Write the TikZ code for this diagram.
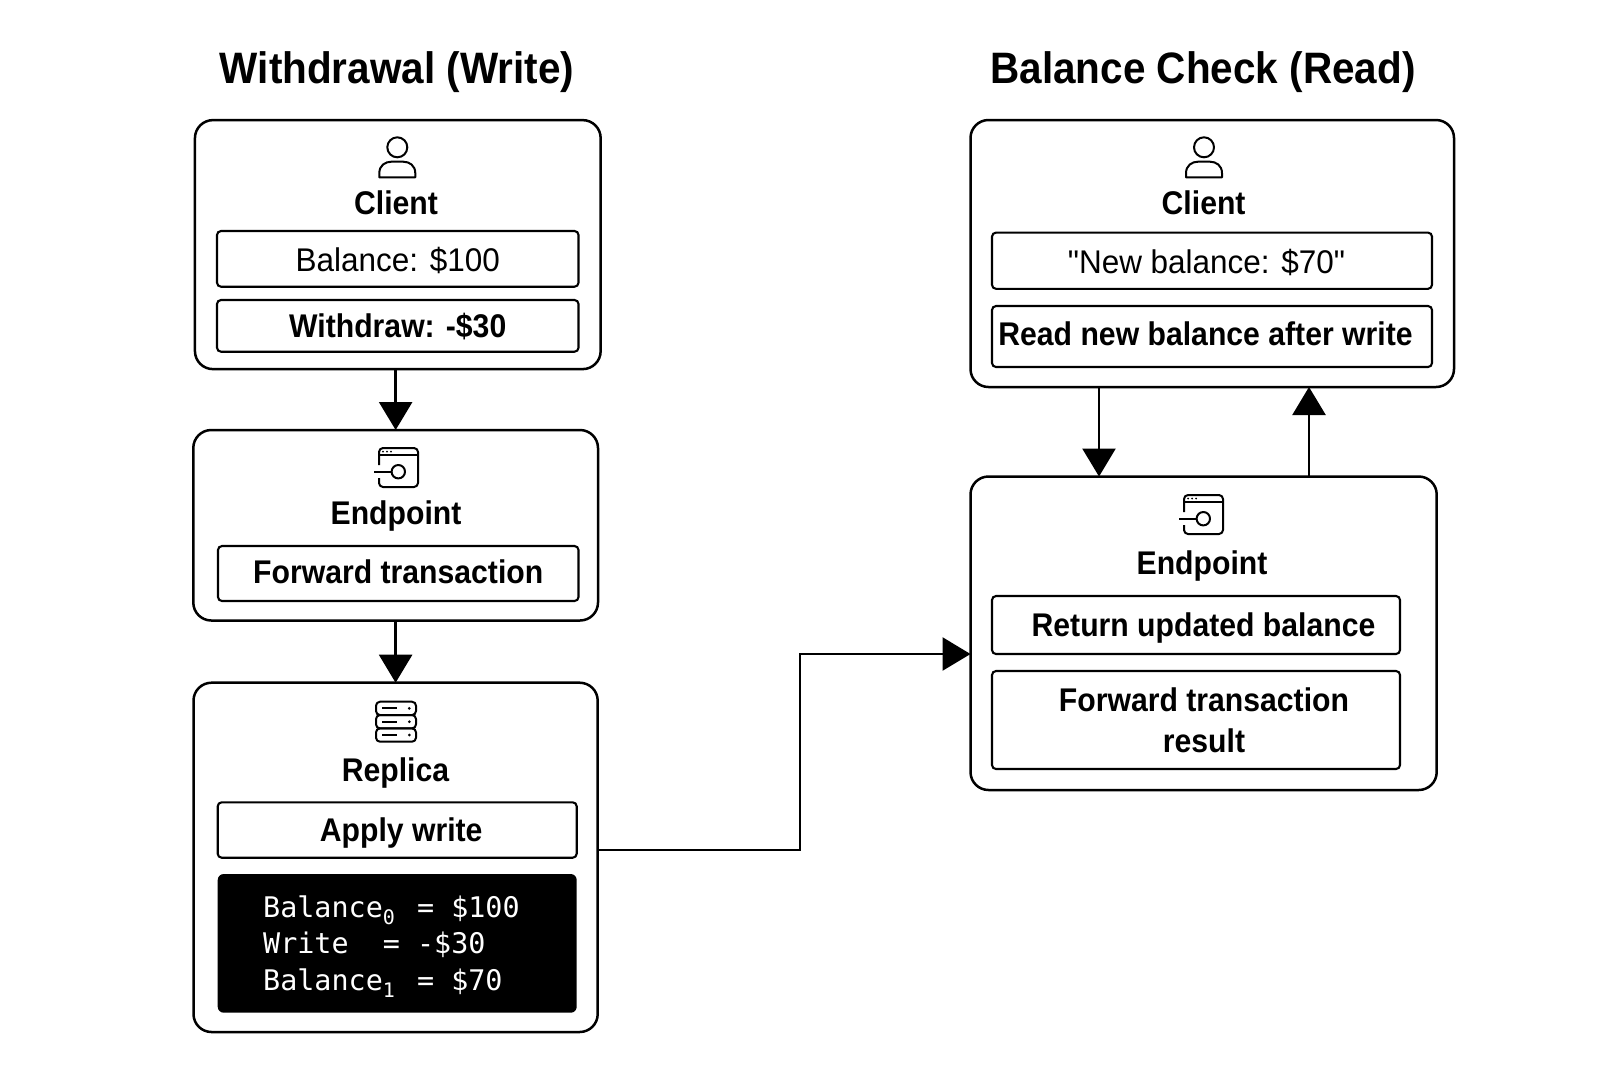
\documentclass[tikz,border=0pt]{standalone}
\usepackage{fontspec}
\usetikzlibrary{arrows.meta}
\setmainfont{Liberation Sans}[Ligatures=TeXOff,FakeStretch=0.96,BoldFeatures={FakeStretch=0.92}]
\newfontfamily\codefont{DejaVu Sans Mono}
\newcommand{\codesub}[1]{\makebox[8.55pt][l]{\raisebox{-3.5pt}{\fontsize{10}{10}\selectfont #1}}}
\newcommand{\cg}{\hspace*{8.55pt}}
\tikzset{
  outerbox/.style={draw=black,line width=1.25pt,rounded corners=9pt,fill=white,inner sep=0pt,outer sep=0pt},
  innerbox/.style={draw=black,line width=1.05pt,rounded corners=2pt,inner sep=0pt,outer sep=0pt,font=\fontsize{16.4}{20}\selectfont\bfseries,text height=11.8pt,text depth=0pt},
  plainbox/.style={innerbox,font=\fontsize{16.4}{20}\selectfont},
  twolinebox/.style={draw=black,line width=1.05pt,rounded corners=2pt,inner sep=0pt,outer sep=0pt,font=\fontsize{16.4}{20.5}\selectfont\bfseries,align=center},
  codebox/.style={fill=black,rounded corners=3pt,text=white,inner ysep=0pt,inner xsep=22.75pt,outer sep=0pt,align=left,font=\codefont\fontsize{14.2}{18.35}\selectfont},
  heading/.style={font=\fontsize{22}{26}\selectfont\bfseries,inner sep=0pt,text height=16pt,text depth=0pt},
  boxname/.style={font=\fontsize{16.4}{20}\selectfont\bfseries,inner sep=0pt,text height=11.8pt,text depth=0pt},
  flow/.style={draw=black,line width=1.3pt,-{Triangle[length=14pt,width=16.5pt]},shorten >=0pt},
  iconline/.style={draw=black,line width=1pt,line join=round},
  person/.pic={
    \draw[iconline] (0,0) circle (10);
    \draw[iconline] (-18,30) -- (18,30) -- (18,26) .. controls (18,18) and (12,14.4) .. (6,14.4) -- (-6,14.4) .. controls (-12,14.4) and (-18,18) .. (-18,26) -- cycle;
  },
  appwindow/.pic={
    \draw[iconline,rounded corners=2pt] (0,17) -- (0,0) -- (39,0) -- (39,39) -- (0,39) -- (0,30);
    \draw[iconline] (0,7) -- (39,7);
    \fill (4,3.5) circle (1) (8,3.5) circle (1) (12,3.5) circle (1);
    \draw[iconline] (19.3,23.7) circle (6.7);
    \draw[iconline] (-5,23.7) -- (12.6,23.7);
  },
  serverstack/.pic={
    \foreach \yy/\ym/\ye in {0/6.67/13.33,13.33/20/26.67,26.67/33.33/40}{
      \draw[iconline,rounded corners=2pt] (0,\yy) rectangle (40,\ye);
      \draw[iconline] (6,\ym) -- (21,\ym);
      \fill (33.3,\ym) circle (1.5);
    }
  }
}
\begin{document}
\begin{tikzpicture}[x=0.5pt,y=-0.5pt]
\useasboundingbox[fill=white] (0,0) rectangle (1600,1073);

\node[heading] (title1) at (397,67) {Withdrawal (Write)};
\node[heading] (title2) at (1203,67) {Balance Check (Read)};

% left column
\node[outerbox,minimum width=202.85pt,minimum height=124.5pt] (c1) at (397.8,244.6) {};
\pic at (397.3,147.3) {person};
\node[boxname] (c1name) at (396,203) {Client};
\node[plainbox,minimum width=180.75pt,minimum height=27.85pt] (c1a) at (397.75,258.85) {\raisebox{-0.5pt}{Balance: \$100}};
\node[innerbox,minimum width=180.75pt,minimum height=25.85pt] (c1b) at (397.75,325.85) {Withdraw: -\$30};

\node[outerbox,minimum width=202.35pt,minimum height=95.25pt] (e1) at (395.65,525.25) {};
\pic at (379,448) {appwindow};
\node[boxname] (e1name) at (396,513) {Endpoint};
\node[innerbox,minimum width=180.25pt,minimum height=27.5pt] (e1a) at (398.25,573.5) {\raisebox{1pt}{Forward transaction}};

\node[outerbox,minimum width=202.1pt,minimum height=174.65pt] (r1) at (395.6,857.35) {};
\pic at (376,701.7) {serverstack};
\node[boxname] (r1name) at (395.5,770) {Replica};
\node[innerbox,minimum width=179.5pt,minimum height=27.7pt] (r1a) at (397.2,830) {\hspace*{4pt}Apply write};
\node[codebox,minimum height=69.35pt,text width=134pt] (r1b) at (397.2,943.35) {%
\rule{0pt}{14pt}Balance\codesub{0}\cg=\cg\$100\\
Write\cg\cg=\cg-\$30\\
Balance\codesub{1}\cg=\cg\$70};

% right column
\node[outerbox,minimum width=241.75pt,minimum height=133.5pt] (c2) at (1212.25,253.5) {};
\pic at (1204,147.3) {person};
\node[boxname] (c2name) at (1203.6,203) {Client};
\node[plainbox,minimum width=220pt,minimum height=28.1pt] (c2a) at (1212,260.7) {\raisebox{-0.5pt}{"New balance: \$70"}\hspace*{5.5pt}};
\node[innerbox,minimum width=220pt,minimum height=30.5pt] (c2b) at (1212,336.5) {\raisebox{1.5pt}{Read new balance after write}\hspace*{6.5pt}};

\node[outerbox,minimum width=233.1pt,minimum height=156.75pt] (e2) at (1203.6,633.25) {};
\pic at (1184,495) {appwindow};
\node[boxname] (e2name) at (1202,563) {Endpoint};
\node[innerbox,minimum width=204pt,minimum height=29pt] (e2a) at (1196,625) {\hspace*{7.5pt}Return updated balance};
\node[twolinebox,minimum width=204pt,minimum height=49pt] (e2b) at (1196,720) {\hspace*{8pt}Forward transaction\\\hspace*{8pt}result};

% connectors
\coordinate (c2down) at (1099,0);
\coordinate (c2up) at (1309,0);
\coordinate (bend) at (800,850);
\coordinate (e2in) at (900,654);
\draw[flow] (c1.south -| e1.north) -- (e1.north);
\draw[flow] (e1.south -| r1.north) -- (r1.north);
\draw[flow] (r1.east |- bend) -- (bend) -- (bend |- e2in) -- (e2.west |- e2in);
\draw[flow] (c2.south -| c2down) -- (e2.north -| c2down);
\draw[flow] (e2.north -| c2up) -- (c2.south -| c2up);
\end{tikzpicture}
\end{document}
